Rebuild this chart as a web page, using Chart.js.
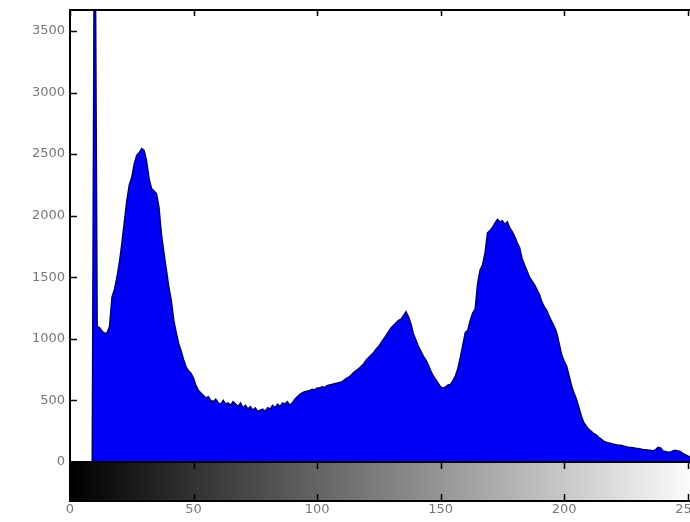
<!DOCTYPE html>
<html>
<head>
<meta charset="utf-8">
<script src="https://cdn.jsdelivr.net/npm/chart.js@4"></script>
<style>
  html, body { margin: 0; padding: 0; background: #fff; overflow: hidden; }
  #wrap { width: 704px; height: 522px; }
</style>
</head>
<body>
<div id="wrap"><canvas id="hist" width="704" height="522"></canvas></div>
<script>
// gray levels 0..255
const grayLevels = Array.from({ length: 256 }, (_, i) => i);

// pixel counts per gray level
const counts = [
    0, 0, 0, 0, 0, 0, 0, 0, 0, 0,
    5200,
    1100, 1090, 1060, 1045, 1050, 1100, 1340, 1400, 1500, 1620,
    1775, 1950, 2120, 2250, 2310, 2420, 2490, 2510, 2545, 2530,
    2440, 2300, 2220, 2200, 2180, 2070, 1850, 1700, 1560, 1420,
    1310, 1150, 1050, 960, 900, 830, 770, 740, 720, 680,
    620, 580, 560, 540, 520, 530, 500, 490, 510, 480,
    470, 500, 470, 480, 460, 490, 470, 450, 480, 440,
    460, 430, 450, 420, 440, 410, 420, 430, 410, 440,
    430, 460, 440, 470, 450, 480, 470, 490, 460, 480,
    510, 530, 550, 560, 570, 575, 580, 590, 585, 600,
    600, 610, 605, 620, 625, 630, 635, 640, 645, 650,
    665, 680, 690, 710, 730, 745, 760, 780, 800, 830,
    850, 870, 890, 920, 940, 970, 1000, 1030, 1060, 1090,
    1110, 1130, 1150, 1160, 1190, 1220, 1180, 1120, 1040, 990,
    940, 900, 860, 830, 790, 740, 700, 670, 640, 610,
    600, 610, 625, 630, 660, 700, 760, 850, 950, 1050,
    1070, 1150, 1210, 1240, 1450, 1560, 1600, 1700, 1860, 1880,
    1905, 1940, 1970, 1950, 1960, 1930, 1950, 1900, 1870, 1830,
    1780, 1740, 1650, 1600, 1550, 1500, 1470, 1440, 1400, 1360,
    1300, 1260, 1230, 1180, 1140, 1100, 1050, 960, 870, 820,
    780, 700, 620, 560, 510, 440, 370, 320, 290, 265,
    250, 230, 220, 200, 185, 170, 160, 155, 150, 145,
    140, 135, 135, 130, 125, 120, 118, 115, 112, 110,
    105, 100, 100, 95, 95, 90, 100, 120, 115, 90,
    85, 80, 80, 90, 95, 90, 85, 70, 60, 50,
    40, 35, 30, 25, 20
];

const xTicks = [0, 50, 100, 150, 200, 250];
const yTicks = [0, 500, 1000, 1500, 2000, 2500, 3000, 3500];
const yMax = 3670;

// frame, inward ticks and the grayscale colorbar under the axes
const framePlugin = {
    id: 'frame',
    afterDraw(chart) {
        const { ctx, chartArea: a, scales } = chart;
        const barTop = a.bottom;
        const barBottom = a.bottom + 39;

        ctx.save();
        const grad = ctx.createLinearGradient(scales.x.getPixelForValue(0), 0, scales.x.getPixelForValue(255), 0);
        grad.addColorStop(0, '#000000');
        grad.addColorStop(1, '#ffffff');
        ctx.fillStyle = grad;
        ctx.fillRect(a.left, barTop, a.right - a.left, barBottom - barTop);

        ctx.strokeStyle = '#000';
        ctx.lineWidth = 2;
        ctx.strokeRect(a.left, a.top, a.right - a.left, barBottom - a.top);
        ctx.beginPath();
        ctx.moveTo(a.left, barTop);
        ctx.lineTo(a.right, barTop);
        ctx.stroke();

        ctx.lineWidth = 1.5;
        ctx.beginPath();
        scales.y.ticks.forEach(t => {
            const y = Math.round(scales.y.getPixelForValue(t.value)) + 0.5;
            ctx.moveTo(a.left, y);
            ctx.lineTo(a.left + 7, y);
        });
        scales.x.ticks.forEach(t => {
            const x = Math.round(scales.x.getPixelForValue(t.value)) + 0.5;
            ctx.moveTo(x, a.top);
            ctx.lineTo(x, a.top + 6);
            ctx.moveTo(x, barTop);
            ctx.lineTo(x, barTop + 7);
            ctx.moveTo(x, barBottom);
            ctx.lineTo(x, barBottom - 7);
        });
        ctx.stroke();
        ctx.restore();
    }
};

new Chart(document.getElementById('hist'), {
    type: 'line',
    data: {
        labels: grayLevels,
        datasets: [{
            data: grayLevels.map((g, i) => ({ x: g, y: counts[i] })),
            fill: 'origin',
            backgroundColor: '#0000f5',
            borderColor: '#000070',
            borderWidth: 1.5,
            pointRadius: 0,
            tension: 0
        }]
    },
    options: {
        responsive: false,
        animation: false,
        layout: { padding: { top: 10, right: 4, left: 0, bottom: 0 } },
        plugins: { legend: { display: false }, tooltip: { enabled: false } },
        scales: {
            x: {
                type: 'linear',
                min: 0,
                max: 255,
                afterBuildTicks: s => { s.ticks = xTicks.map(v => ({ value: v })); },
                afterFit: s => {
                    s.height = 60;
                    s.paddingLeft = 0;
                    s.paddingRight = 0;
                },
                ticks: {
                    autoSkip: false,
                    padding: 40,
                    color: '#777',
                    font: { family: 'DejaVu Sans', size: 13 },
                    maxRotation: 0,
                    callback: v => String(v)
                },
                grid: { display: false, drawTicks: false },
                border: { display: false }
            },
            y: {
                min: 0,
                max: yMax,
                afterBuildTicks: s => { s.ticks = yTicks.map(v => ({ value: v })); },
                afterFit: s => {
                    s.width = 70;
                    s.paddingTop = 0;
                    s.paddingBottom = 0;
                },
                ticks: {
                    autoSkip: false,
                    padding: 5,
                    color: '#777',
                    font: { family: 'DejaVu Sans', size: 13 },
                    callback: v => String(v)
                },
                grid: { display: false, drawTicks: false },
                border: { display: false }
            }
        }
    },
    plugins: [framePlugin]
});
</script>
</body>
</html>
